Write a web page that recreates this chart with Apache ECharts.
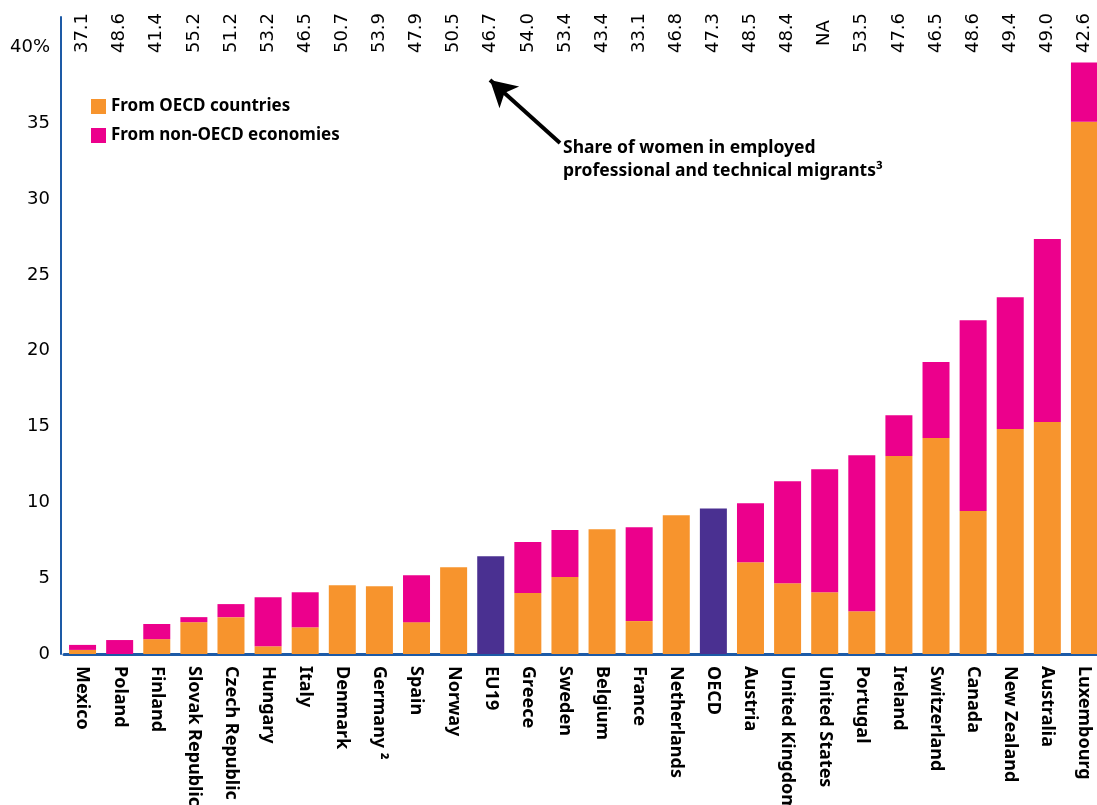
<!DOCTYPE html>
<html>
<head>
<meta charset="utf-8">
<title>Migrants</title>
<script src="https://cdn.jsdelivr.net/npm/echarts@6/dist/echarts.min.js"></script>
<style>
  html, body { margin: 0; padding: 0; background: #fff; }
  #chart { width: 1097px; height: 805px; }
</style>
</head>
<body>
<div id="chart"></div>
<script>
// categories along the bottom
const countries = ['Mexico', 'Poland', 'Finland', 'Slovak Republic', 'Czech Republic', 'Hungary', 'Italy',
  'Denmark', 'Germany \u00b2', 'Spain', 'Norway', 'EU19', 'Greece', 'Sweden', 'Belgium', 'France',
  'Netherlands', 'OECD', 'Austria', 'United Kingdom', 'United States', 'Portugal', 'Ireland',
  'Switzerland', 'Canada', 'New Zealand', 'Australia', 'Luxembourg']

// share of women in employed professional and technical migrants (top row)
const womenShare = ['37.1', '48.6', '41.4', '55.2', '51.2', '53.2', '46.5', '50.7', '53.9', '47.9',
  '50.5', '46.7', '54.0', '53.4', '43.4', '33.1', '46.8', '47.3', '48.5', '48.4', 'NA', '53.5',
  '47.6', '46.5', '48.6', '49.4', '49.0', '42.6']

// % from OECD countries
const fromOecd = [0.27, 0, 0.98, 2.1, 2.43, 0.51, 1.76, 4.53, 4.46, 2.1, 5.72, '-', 4.02, 5.07,
  8.22, 2.17, 9.15, '-', 6.05, 4.66, 4.07, 2.82, 13.05, 14.24, 9.43, 14.84, 15.3, 35.1]

// % from non-OECD economies
const fromNonOecd = [0.33, 0.92, 1.0, 0.33, 0.86, 3.24, 2.31, 0, 0, 3.09, 0, '-', 3.36, 3.1,
  0, 6.19, 0, '-', 3.89, 6.73, 8.11, 10.28, 2.7, 5.01, 12.57, 8.69, 12.06, 3.9]

// averages (EU19, OECD) drawn as single purple bars
const averages = ['-', '-', '-', '-', '-', '-', '-', '-', '-', '-', '-', 6.44, '-', '-',
  '-', '-', '-', 9.6, '-', '-', '-', '-', '-', '-', '-', '-', '-', '-']

const yTicks = [0, 5, 10, 15, 20, 25, 30, 35, 40]
const yTickLabels = ['0', '5', '10', '15', '20', '25', '30', '35', '40%']

const chart = echarts.init(document.getElementById('chart'))

chart.setOption({
  animation: false,
  textStyle: { fontFamily: 'Noto Sans' },
  grid: { left: 64, top: 17, width: 1039, height: 637, containLabel: false, outerBoundsMode: 'none' },
  legend: {
    orient: 'vertical',
    left: 86,
    top: 93,
    itemWidth: 15,
    itemHeight: 15,
    itemGap: 12,
    icon: 'rect',
    data: ['From OECD countries', 'From non-OECD economies'],
    textStyle: { fontFamily: 'Noto Sans', fontWeight: 'bold', fontSize: 17, color: '#000' }
  },
  xAxis: [{
    type: 'category',
    data: countries,
    axisLine: { lineStyle: { color: '#1d5aa6', width: 3 } },
    axisTick: { show: false },
    axisLabel: {
      interval: 0,
      rotate: -90,
      margin: 12,
      color: '#000',
      fontFamily: 'Noto Sans',
      fontWeight: 'bold',
      fontSize: 18
    }
  }, {
    type: 'category',
    position: 'top',
    data: womenShare,
    axisLine: { show: false },
    axisTick: { show: false },
    axisLabel: {
      interval: 0,
      rotate: -90,
      margin: -16,
      align: 'center',
      verticalAlign: 'middle',
      color: '#000',
      fontFamily: 'DejaVu Sans',
      fontSize: 18
    }
  }],
  yAxis: {
    type: 'value',
    min: 0,
    max: 42,
    interval: 5,
    offset: 3,
    axisLine: { show: true, lineStyle: { color: '#1d5aa6', width: 2 } },
    axisTick: { show: false },
    splitLine: { show: false },
    axisLabel: {
      margin: 11,
      color: '#000',
      fontFamily: 'DejaVu Sans',
      fontSize: 18,
      formatter: v => {
        const i = yTicks.indexOf(v)
        return i >= 0 ? yTickLabels[i] : ''
      }
    }
  },
  graphic: [{
    type: 'text',
    left: 563,
    top: 137,
    style: {
      text: 'Share of women in employed\nprofessional and technical migrants\u00b3',
      fontFamily: 'Noto Sans',
      fontWeight: 'bold',
      fontSize: 17.5,
      lineHeight: 23,
      fill: '#000'
    }
  }],
  series: [{
    name: 'From OECD countries',
    type: 'bar',
    stack: 'total',
    barWidth: 27,
    data: fromOecd,
    itemStyle: { color: '#f7942d' },
    markLine: {
      silent: true,
      symbol: ['none', 'arrow'],
      symbolSize: [22, 26],
      label: { show: false },
      lineStyle: { color: '#000', width: 4, type: 'solid' },
      data: [[{ x: 560, y: 143 }, { x: 490, y: 80 }]]
    }
  }, {
    name: 'From non-OECD economies',
    type: 'bar',
    stack: 'total',
    barWidth: 27,
    data: fromNonOecd,
    itemStyle: { color: '#ec008c' }
  }, {
    name: 'Average',
    type: 'bar',
    stack: 'total',
    barWidth: 27,
    data: averages,
    itemStyle: { color: '#4a3091' }
  }]
})
</script>
</body>
</html>
